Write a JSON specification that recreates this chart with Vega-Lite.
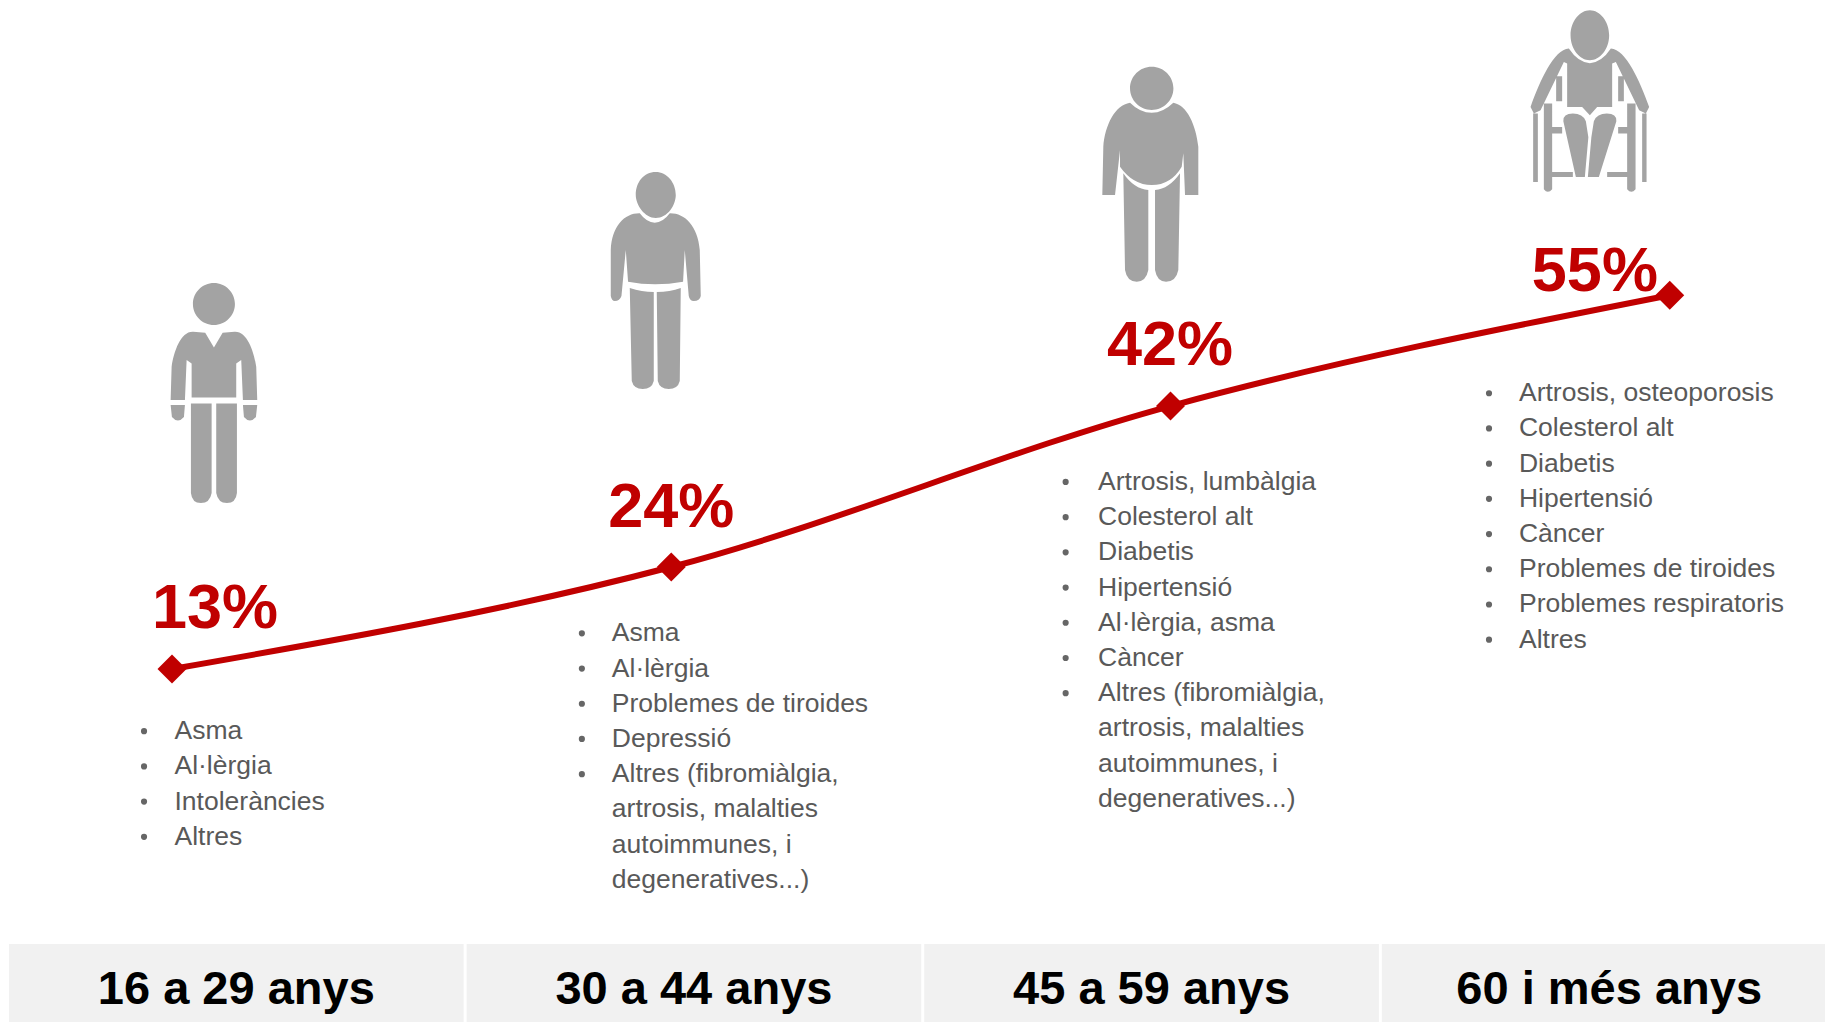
{
"$schema":"https://vega.github.io/schema/vega-lite/v6.json",
"width":1825,"height":1022,"padding":0,"autosize":{"type":"none"},
"background":"white",
"config":{"view":{"stroke":null},"axis":{"domain":false,"ticks":false,"labels":false,"grid":false,"title":null}},
"datasets":{
"groups":[
{"age":"16 a 29 anys","idx":0,"level":13.0,"pct":"13%","labelIdx":0.086,"labelLevel":19.7,"iconIdx":0.084,"iconLevel":44.0,"top":-17.9,"bottom":-26.66,"headerLevel":-23.1},
{"age":"30 a 44 anys","idx":1,"level":24.46,"pct":"24%","labelIdx":1.0,"labelLevel":31.05,"iconIdx":0.967,"iconLevel":56.6,"top":-17.9,"bottom":-26.66,"headerLevel":-23.1},
{"age":"45 a 59 anys","idx":2,"level":42.55,"pct":"42%","labelIdx":1.999,"labelLevel":49.25,"iconIdx":1.961,"iconLevel":68.5,"top":-17.9,"bottom":-26.66,"headerLevel":-23.1},
{"age":"60 i més anys","idx":3,"level":55.0,"pct":"55%","labelIdx":2.85,"labelLevel":57.65,"iconIdx":2.84,"iconLevel":76.8,"top":-17.9,"bottom":-26.66,"headerLevel":-23.1}
],
"lists":[
{"age":"16 a 29 anys","col":0.005,"bulletCol":-0.056,"row":20.77,"item":"Asma","bullet":true},
{"age":"16 a 29 anys","col":0.005,"bulletCol":-0.056,"row":21.77,"item":"Al·lèrgia","bullet":true},
{"age":"16 a 29 anys","col":0.005,"bulletCol":-0.056,"row":22.77,"item":"Intoleràncies","bullet":true},
{"age":"16 a 29 anys","col":0.005,"bulletCol":-0.056,"row":23.77,"item":"Altres","bullet":true},
{"age":"30 a 44 anys","col":0.881,"bulletCol":0.821,"row":17.99,"item":"Asma","bullet":true},
{"age":"30 a 44 anys","col":0.881,"bulletCol":0.821,"row":18.99,"item":"Al·lèrgia","bullet":true},
{"age":"30 a 44 anys","col":0.881,"bulletCol":0.821,"row":19.99,"item":"Problemes de tiroides","bullet":true},
{"age":"30 a 44 anys","col":0.881,"bulletCol":0.821,"row":20.99,"item":"Depressió","bullet":true},
{"age":"30 a 44 anys","col":0.881,"bulletCol":0.821,"row":21.99,"item":"Altres (fibromiàlgia,","bullet":true},
{"age":"30 a 44 anys","col":0.881,"bulletCol":0.821,"row":22.99,"item":"artrosis, malalties","bullet":false},
{"age":"30 a 44 anys","col":0.881,"bulletCol":0.821,"row":23.99,"item":"autoimmunes, i","bullet":false},
{"age":"30 a 44 anys","col":0.881,"bulletCol":0.821,"row":24.99,"item":"degeneratives...)","bullet":false},
{"age":"45 a 59 anys","col":1.855,"bulletCol":1.79,"row":13.69,"item":"Artrosis, lumbàlgia","bullet":true},
{"age":"45 a 59 anys","col":1.855,"bulletCol":1.79,"row":14.69,"item":"Colesterol alt","bullet":true},
{"age":"45 a 59 anys","col":1.855,"bulletCol":1.79,"row":15.69,"item":"Diabetis","bullet":true},
{"age":"45 a 59 anys","col":1.855,"bulletCol":1.79,"row":16.69,"item":"Hipertensió","bullet":true},
{"age":"45 a 59 anys","col":1.855,"bulletCol":1.79,"row":17.69,"item":"Al·lèrgia, asma","bullet":true},
{"age":"45 a 59 anys","col":1.855,"bulletCol":1.79,"row":18.69,"item":"Càncer","bullet":true},
{"age":"45 a 59 anys","col":1.855,"bulletCol":1.79,"row":19.69,"item":"Altres (fibromiàlgia,","bullet":true},
{"age":"45 a 59 anys","col":1.855,"bulletCol":1.79,"row":20.69,"item":"artrosis, malalties","bullet":false},
{"age":"45 a 59 anys","col":1.855,"bulletCol":1.79,"row":21.69,"item":"autoimmunes, i","bullet":false},
{"age":"45 a 59 anys","col":1.855,"bulletCol":1.79,"row":22.69,"item":"degeneratives...)","bullet":false},
{"age":"60 i més anys","col":2.698,"bulletCol":2.638,"row":11.17,"item":"Artrosis, osteoporosis","bullet":true},
{"age":"60 i més anys","col":2.698,"bulletCol":2.638,"row":12.17,"item":"Colesterol alt","bullet":true},
{"age":"60 i més anys","col":2.698,"bulletCol":2.638,"row":13.17,"item":"Diabetis","bullet":true},
{"age":"60 i més anys","col":2.698,"bulletCol":2.638,"row":14.17,"item":"Hipertensió","bullet":true},
{"age":"60 i més anys","col":2.698,"bulletCol":2.638,"row":15.17,"item":"Càncer","bullet":true},
{"age":"60 i més anys","col":2.698,"bulletCol":2.638,"row":16.17,"item":"Problemes de tiroides","bullet":true},
{"age":"60 i més anys","col":2.698,"bulletCol":2.638,"row":17.17,"item":"Problemes respiratoris","bullet":true},
{"age":"60 i més anys","col":2.698,"bulletCol":2.638,"row":18.17,"item":"Altres","bullet":true}
]
},
"resolve":{"scale":{"x":"independent","y":"independent"}},
"layer":[
{"data":{"name":"groups"},"mark":{"type":"bar","color":"#f1f1f1"},
 "encoding":{
  "x":{"field":"age","type":"nominal","sort":null,"axis":null,"scale":{"type":"band","range":[9,1836.5],"paddingInner":0.0065,"paddingOuter":0}},
  "y":{"field":"top","type":"quantitative","axis":null,"scale":{"domain":[-26.66,88.17],"nice":false,"zero":false}},
  "y2":{"field":"bottom"}}},
{"data":{"name":"groups"},"mark":{"type":"text","font":"Liberation Sans","fontWeight":"bold","fontSize":47,"color":"#000000","align":"center","baseline":"middle"},
 "encoding":{
  "x":{"field":"age","type":"nominal","sort":null,"axis":null,"scale":{"type":"band","range":[9,1836.5],"paddingInner":0.0065,"paddingOuter":0}},
  "y":{"field":"headerLevel","type":"quantitative","axis":null,"scale":{"domain":[-26.66,88.17],"nice":false,"zero":false}},
  "text":{"field":"age","type":"nominal"}}},
{"data":{"name":"groups"},"mark":{"type":"line","color":"#C00000","strokeWidth":6,"interpolate":"monotone"},
 "encoding":{
  "x":{"field":"idx","type":"quantitative","axis":null,"scale":{"domain":[-0.3445,3.311],"nice":false,"zero":false}},
  "y":{"field":"level","type":"quantitative","axis":null,"scale":{"domain":[-26.66,88.17],"nice":false,"zero":false}}}},
{"data":{"name":"groups"},"mark":{"type":"point","shape":"diamond","filled":true,"color":"#C00000","size":840,"opacity":1},
 "encoding":{
  "x":{"field":"idx","type":"quantitative","axis":null,"scale":{"domain":[-0.3445,3.311],"nice":false,"zero":false}},
  "y":{"field":"level","type":"quantitative","axis":null,"scale":{"domain":[-26.66,88.17],"nice":false,"zero":false}}}},
{"data":{"name":"groups"},"mark":{"type":"text","font":"Liberation Sans","fontWeight":"bold","fontSize":63,"color":"#C00000","align":"center","baseline":"middle"},
 "encoding":{
  "x":{"field":"labelIdx","type":"quantitative","axis":null,"scale":{"domain":[-0.3445,3.311],"nice":false,"zero":false}},
  "y":{"field":"labelLevel","type":"quantitative","axis":null,"scale":{"domain":[-26.66,88.17],"nice":false,"zero":false}},
  "text":{"field":"pct","type":"nominal"}}},
{"data":{"name":"lists"},"mark":{"type":"text","font":"Liberation Sans","fontSize":26.5,"color":"#595959","align":"left","baseline":"middle"},
 "encoding":{
  "x":{"field":"col","type":"quantitative","axis":null,"scale":{"domain":[-0.3445,3.311],"nice":false,"zero":false}},
  "y":{"field":"row","type":"quantitative","axis":null,"scale":{"domain":[0,29.03],"reverse":true,"nice":false,"zero":false}},
  "text":{"field":"item","type":"nominal"}}},
{"data":{"name":"lists"},"transform":[{"filter":"datum.bullet"}],"mark":{"type":"point","shape":"circle","filled":true,"color":"#666666","size":38,"opacity":1},
 "encoding":{
  "x":{"field":"bulletCol","type":"quantitative","axis":null,"scale":{"domain":[-0.3445,3.311],"nice":false,"zero":false}},
  "y":{"field":"row","type":"quantitative","axis":null,"scale":{"domain":[0,29.03],"reverse":true,"nice":false,"zero":false}}}},
{"data":{"name":"groups"},"transform":[{"filter":"datum.idx==0"}],
 "mark":{"type":"point","filled":true,"color":"#a3a3a3","opacity":1,"size":40000,"shape":"M-.21 -.89C-.21 -1.006 -.116 -1.1 0 -1.1C.116 -1.1 .21 -1.006 .21 -.89C.21 -.774 .116 -.68 0 -.68C-.116 -.68 -.21 -.774 -.21 -.89ZM-.087 -.603L-.207 -.613C-.33 -.62 -.4 -.42 -.423 -.263L-.433 .07L-.29 .07L-.273 -.33L-.223 -.297L-.223 .043L.223 .043L.223 -.297L.273 -.33L.29 .07L.433 .07L.423 -.263C.4 -.42 .33 -.62 .207 -.613L.087 -.603L0 -.457ZM-.433 .12L-.29 .12L-.3 .24Q-.36 .31 -.42 .24ZM.433 .12L.29 .12L.3 .24Q.36 .31 .42 .24ZM-.23 .103L-.023 .103L-.023 1Q-.04 1.1 -.13 1.1Q-.22 1.1 -.23 1ZM.23 .103L.023 .103L.023 1Q.04 1.1 .13 1.1Q.22 1.1 .23 1Z"},
 "encoding":{
  "x":{"field":"iconIdx","type":"quantitative","axis":null,"scale":{"domain":[-0.3445,3.311],"nice":false,"zero":false}},
  "y":{"field":"iconLevel","type":"quantitative","axis":null,"scale":{"domain":[-26.66,88.17],"nice":false,"zero":false}}}},
{"data":{"name":"groups"},"transform":[{"filter":"datum.idx==1"}],
 "mark":{"type":"point","filled":true,"color":"#a3a3a3","opacity":1,"size":40000,"shape":"M-.19 -.86C-.19 -.987 -.11 -1.09 .01 -1.09C.12 -1.09 .21 -.987 .21 -.86C.21 -.76 .13 -.63 .01 -.63C-.1 -.63 -.19 -.76 -.19 -.86ZM-.15 -.677Q-.08 -.583 0 -.583Q.08 -.583 .15 -.677C.3 -.68 .43 -.55 .45 -.31L.46 .15Q.45 .2 .39 .2Q.35 .2 .34 .15L.3 -.31L.283 .007Q0 .06 -.267 .007L-.29 -.31L-.333 .15Q-.35 .2 -.4 .2Q-.43 .2 -.44 .15L-.44 -.31C-.43 -.55 -.3 -.68 -.15 -.677ZM-.25 .07Q-.13 .11 -.01 .11L-.01 1Q-.03 1.08 -.12 1.08Q-.21 1.08 -.23 1ZM.02 .11Q.15 .11 .26 .07L.25 1Q.23 1.08 .14 1.08Q.05 1.08 .03 1Z"},
 "encoding":{
  "x":{"field":"iconIdx","type":"quantitative","axis":null,"scale":{"domain":[-0.3445,3.311],"nice":false,"zero":false}},
  "y":{"field":"iconLevel","type":"quantitative","axis":null,"scale":{"domain":[-26.66,88.17],"nice":false,"zero":false}}}},
{"data":{"name":"groups"},"transform":[{"filter":"datum.idx==2"}],
 "mark":{"type":"point","filled":true,"color":"#a3a3a3","opacity":1,"size":40000,"shape":"M-.21 -.867C-.21 -.987 -.113 -1.084 .007 -1.084C.127 -1.084 .224 -.987 .224 -.867C.224 -.747 .127 -.65 .007 -.65C-.113 -.65 -.21 -.747 -.21 -.867ZM-.21 -.723Q-.11 -.623 .007 -.623Q.12 -.623 .223 -.723C.36 -.7 .45 -.5 .473 -.283L.473 .2L.34 .2L.323 -.217L.307 -.083Q.2 .1 .007 .1Q-.18 .1 -.31 -.083L-.31 -.25L-.36 .2L-.487 .2L-.477 -.283C-.46 -.5 -.36 -.7 -.21 -.723ZM-.277 -.017Q-.17 .14 -.027 .15L-.027 .95Q-.05 1.067 -.143 1.067Q-.24 1.067 -.26 .95ZM.04 .15Q.18 .14 .29 -.017L.273 .95Q.25 1.067 .15 1.067Q.06 1.067 .04 .95Z"},
 "encoding":{
  "x":{"field":"iconIdx","type":"quantitative","axis":null,"scale":{"domain":[-0.3445,3.311],"nice":false,"zero":false}},
  "y":{"field":"iconLevel","type":"quantitative","axis":null,"scale":{"domain":[-26.66,88.17],"nice":false,"zero":false}}}},
{"data":{"name":"groups"},"transform":[{"filter":"datum.idx==3"}],
 "mark":{"type":"point","filled":true,"color":"#a3a3a3","opacity":1,"size":40000,"shape":"M-.193 -.66C-.193 -.8 -.1 -.91 0 -.91C.1 -.91 .193 -.8 .193 -.66C.193 -.52 .1 -.41 0 -.41C-.1 -.41 -.193 -.52 -.193 -.66ZM-.21 -.527Q-.12 -.39 0 -.38Q.12 -.39 .21 -.527C.36 -.52 .5 -.2 .593 .057L.56 .123L.493 .09L.26 -.393L.223 -.377L.223 .057L.073 .057L0 .14L-.077 .057L-.227 .057L-.227 -.377L-.26 -.393L-.493 .09L-.56 .123L-.593 .057C-.5 -.2 -.36 -.52 -.21 -.527ZM-.265 .2Q-.27 .123 -.17 .123Q-.07 .123 -.04 .2L-.015 .36L-.05 .757L-.14 .757ZM.265 .2Q.27 .123 .17 .123Q.07 .123 .04 .2L.015 .36L-.02 .757L.09 .757ZM-.46 .023L-.377 .023L-.377 .257L-.277 .257L-.277 .323L-.377 .323L-.377 .707L-.17 .707L-.17 .757L-.377 .757L-.377 .88Q-.42 .93 -.46 .88ZM.457 .023L.373 .023L.373 .257L.283 .257L.283 .323L.373 .323L.373 .707L.173 .707L.173 .757L.373 .757L.373 .88Q.415 .93 .457 .88ZM-.337 -.25L-.277 -.25L-.277 0L-.337 0ZM.283 -.25L.34 -.25L.34 0L.283 0ZM-.567 .123L-.52 .123L-.52 .807L-.567 .807ZM.523 .123L.567 .123L.567 .807L.523 .807Z"},
 "encoding":{
  "x":{"field":"iconIdx","type":"quantitative","axis":null,"scale":{"domain":[-0.3445,3.311],"nice":false,"zero":false}},
  "y":{"field":"iconLevel","type":"quantitative","axis":null,"scale":{"domain":[-26.66,88.17],"nice":false,"zero":false}}}}
]
}
